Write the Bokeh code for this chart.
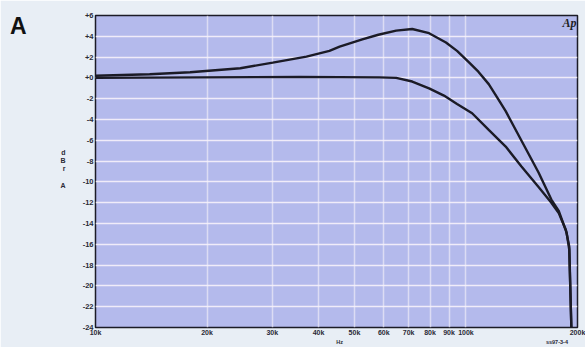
from bokeh.plotting import figure
from bokeh.models import FixedTicker, Label, Range1d, LinearAxis, LogAxis
from bokeh.embed import file_html
from bokeh.resources import INLINE

# ---- data ----
freq_top = [10000, 14000, 18000, 24600, 30100, 37100, 42800, 45600, 52500, 58000,
            64800, 71600, 79500, 88300, 94600, 101900, 108000, 115200, 121000, 128000,
            141000, 157000, 170000, 178000, 187000, 190000, 192500]
db_top = [0.2, 0.35, 0.55, 0.93, 1.47, 2.05, 2.6, 3.0, 3.7, 4.15,
          4.55, 4.7, 4.3, 3.4, 2.6, 1.5, 0.6, -0.6, -1.8, -3.2,
          -6.0, -9.1, -11.7, -12.8, -14.9, -16.5, -24.0]

freq_bot = [10000, 19100, 35600, 58400, 64800, 71600, 79500, 87200, 94600, 103900,
            115200, 128000, 141000, 157000, 170000, 178000, 186000, 190000, 192500]
db_bot = [0.0, 0.05, 0.1, 0.05, 0.0, -0.35, -1.0, -1.7, -2.5, -3.4,
          -5.0, -6.6, -8.5, -10.5, -12.0, -13.0, -14.6, -16.2, -24.0]

y_ticks = [6, 4, 2, 0, -2, -4, -6, -8, -10, -12, -14, -16, -18, -20, -22, -24]
y_labels = ["+6", "+4", "+2", "+0", "-2", "-4", "-6", "-8", "-10", "-12",
            "-14", "-16", "-18", "-20", "-22", "-24"]
x_ticks = [10000, 20000, 30000, 40000, 50000, 60000, 70000, 80000, 90000, 100000, 200000]
x_labels = ["10k", "20k", "30k", "40k", "50k", "60k", "70k", "80k", "90k", "100k", "200k"]

# stacked y-axis title letters and their positions along the dB scale
ytitle_letters = ["d", "B", "r", "A"]
ytitle_pos = [-7.2, -7.95, -8.7, -10.35]
# panel letter, footer texts
panel_letter = "A"
panel_letter_pos = 5.0
foot_texts = ["Hz", "ss97-3-4"]
foot_pos = [45600, 176000]

PAGE_BG = "#e8eef5"
PLOT_BG = "#b4baec"
INK = "#1b1b26"
TXT = "#2a2a35"

p = figure(width=585, height=347, x_axis_type="log", output_backend="svg",
           toolbar_location=None,
           x_range=Range1d(10000, 200000), y_range=Range1d(-24, 6),
           min_border_left=95, min_border_right=8, min_border_top=15,
           min_border_bottom=18)
p.background_fill_color = PLOT_BG
p.border_fill_color = PAGE_BG
p.outline_line_color = INK
p.outline_line_width = 1.5

p.xgrid.ticker = FixedTicker(ticks=x_ticks)
p.ygrid.ticker = FixedTicker(ticks=y_ticks)
p.xgrid.grid_line_color = "#ecebf8"
p.xgrid.grid_line_alpha = 0.7
p.xgrid.grid_line_width = 1.5
p.ygrid.grid_line_color = "#f6f2fb"
p.ygrid.grid_line_alpha = 0.9
p.ygrid.grid_line_width = 1.5


def style_axis(ax, size, standoff):
    ax.axis_line_color = None
    ax.major_tick_line_color = None
    ax.minor_tick_line_color = None
    ax.major_tick_out = 0
    ax.major_tick_in = 0
    ax.minor_tick_out = 0
    ax.minor_tick_in = 0
    ax.major_label_text_font = "Liberation Sans"
    ax.major_label_text_font_style = "bold"
    ax.major_label_text_color = TXT
    ax.major_label_text_font_size = size
    ax.major_label_standoff = standoff


p.xaxis.ticker = FixedTicker(ticks=x_ticks)
p.xaxis.major_label_overrides = {t: l for t, l in zip(x_ticks, x_labels)}
p.yaxis.ticker = FixedTicker(ticks=y_ticks)
p.yaxis.major_label_overrides = {t: l for t, l in zip(y_ticks, y_labels)}
style_axis(p.xaxis[0], "7px", 1)
style_axis(p.yaxis[0], "7.5px", 2)

# stacked "dBr A" title as an extra left axis
ax_t = LinearAxis(ticker=FixedTicker(ticks=ytitle_pos),
                  major_label_overrides={t: l for t, l in zip(ytitle_pos, ytitle_letters)})
style_axis(ax_t, "7px", 14)
p.add_layout(ax_t, "left")

# big panel letter "A"
ax_a = LinearAxis(ticker=FixedTicker(ticks=[panel_letter_pos]),
                  major_label_overrides={panel_letter_pos: panel_letter})
style_axis(ax_a, "23px", 31)
ax_a.major_label_text_color = "#111111"
p.add_layout(ax_a, "left")

# footer texts: "Hz" and the reference code
ax_f = LogAxis(ticker=FixedTicker(ticks=foot_pos),
               major_label_overrides={t: l for t, l in zip(foot_pos, foot_texts)})
style_axis(ax_f, "5.5px", 0)
p.add_layout(ax_f, "below")

p.line(freq_top, db_top, line_color=INK, line_width=2.4)
p.line(freq_bot, db_bot, line_color=INK, line_width=2.4)

p.add_layout(Label(x=467, y=298, x_units="screen", y_units="screen", text="Ap",
                   text_font="Liberation Serif", text_font_style="bold italic",
                   text_font_size="12px", text_color="#222222"))

open("out.html", "w").write(file_html(p, INLINE))
